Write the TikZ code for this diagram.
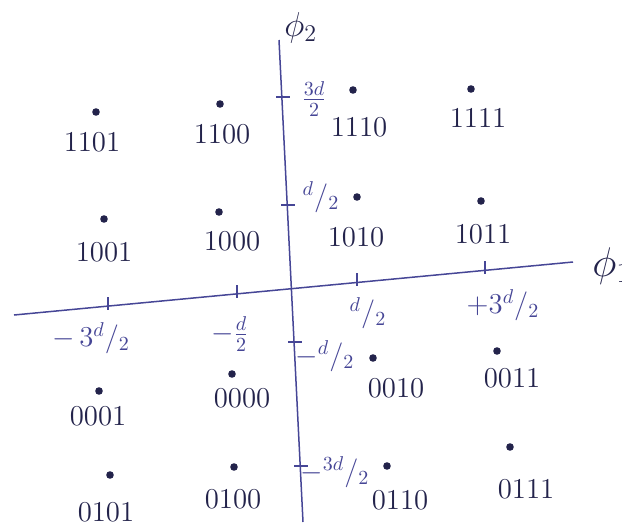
\documentclass[tikz,border=0pt]{standalone}
\usepackage{amsmath}
\definecolor{ink}{RGB}{35,35,75}
\definecolor{pen}{RGB}{70,70,150}
\newcommand{\slfrac}[2]{{}^{#1}{/}{}_{#2}}

\begin{document}
\begin{tikzpicture}[x=0.5pt,y=-0.5pt,
    dot/.style={circle,fill=ink,inner sep=0pt,minimum size=3.8pt},
    code/.style={text=ink,font=\Large},
    tick/.style={text=pen,font=\Large,inner sep=0pt},
    axis/.style={pen,line width=0.75pt}]
  \useasboundingbox (0,0) rectangle (622,526);

  % Axes (slightly tilted, as drawn)
  \coordinate (xleft) at (14,315);
  \coordinate (xright) at (573,262);
  \coordinate (ytop) at (279,40);
  \coordinate (ybot) at (303,522);
  \draw[axis] (xleft) -- (xright);
  \draw[axis] (ytop) -- (ybot);
  \node[text=ink,font=\LARGE,anchor=west,inner sep=0pt] (phi2) at (284,28) {$\phi_2$};
  \node[text=ink,font=\huge,anchor=west,inner sep=0pt] (phi1) at (592,266) {$\phi_1$};

  % Ticks on phi_1
  \draw[axis] (108,297) -- (108,310);
  \draw[axis] (237,285) -- (237,298);
  \draw[axis] (357,273) -- (357,286);
  \draw[axis] (485,261) -- (485,274);

  % Ticks on phi_2
  \draw[axis] (276,97) -- (290,97);
  \draw[axis] (281,205) -- (295,205);
  \draw[axis] (288,342) -- (302,342);
  \draw[axis] (294,466) -- (308,466);

  % Tick labels
  \node[tick] (xm3) at (91,338) {$-\,3\slfrac{d}{2}$};
  \node[tick] (xm1) at (230,334) {$-\frac{d}{2}$};
  \node[tick] (xp1) at (368,313) {$\slfrac{d}{2}$};
  \node[tick] (xp3) at (503,305) {$+3\slfrac{d}{2}$};
  \node[tick] (yp3) at (314,99) {$\frac{3d}{2}$};
  \node[tick] (yp1) at (321,197) {$\slfrac{d}{2}$};
  \node[tick] (ym1) at (325,356) {$-\slfrac{d}{2}$};
  \node[tick] (ym3) at (335,472) {$-\slfrac{3d}{2}$};

  % Upper half of the constellation
  \node[dot] (p1101) at (96,112) {};
  \node[code] (c1101) at (92,142) {1101};
  \node[dot] (p1100) at (220,104) {};
  \node[code] (c1100) at (222,134) {1100};
  \node[dot] (p1110) at (353,90) {};
  \node[code] (c1110) at (359,127) {1110};
  \node[dot] (p1111) at (471,89) {};
  \node[code] (c1111) at (478,118) {1111};
  \node[dot] (p1001) at (104,219) {};
  \node[code] (c1001) at (104,252) {1001};
  \node[dot] (p1000) at (219,212) {};
  \node[code] (c1000) at (232,241) {1000};
  \node[dot] (p1010) at (357,197) {};
  \node[code] (c1010) at (356,237) {1010};
  \node[dot] (p1011) at (481,201) {};
  \node[code] (c1011) at (483,234) {1011};

  % Lower half of the constellation
  \node[dot] (p0001) at (99,391) {};
  \node[code] (c0001) at (98,416) {0001};
  \node[dot] (p0000) at (232,374) {};
  \node[code] (c0000) at (242,398) {0000};
  \node[dot] (p0010) at (373,358) {};
  \node[code] (c0010) at (396,388) {0010};
  \node[dot] (p0011) at (497,351) {};
  \node[code] (c0011) at (512,378) {0011};
  \node[dot] (p0101) at (110,475) {};
  \node[code] (c0101) at (106,512) {0101};
  \node[dot] (p0100) at (234,467) {};
  \node[code] (c0100) at (233,499) {0100};
  \node[dot] (p0110) at (387,466) {};
  \node[code] (c0110) at (400,500) {0110};
  \node[dot] (p0111) at (510,447) {};
  \node[code] (c0111) at (526,489) {0111};
\end{tikzpicture}
\end{document}
